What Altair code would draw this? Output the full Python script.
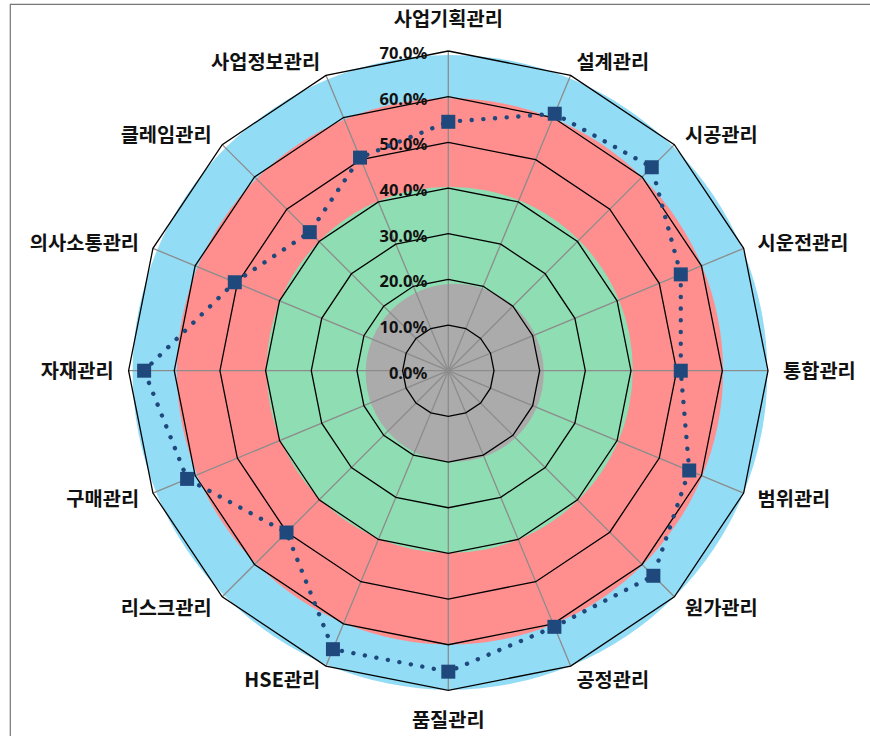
import math

import altair as alt
import pandas as pd

# ---- data -------------------------------------------------------------
CATEGORIES = [
    "사업기획관리", "설계관리", "시공관리", "시운전관리", "통합관리", "범위관리",
    "원가관리", "공정관리", "품질관리", "HSE관리", "리스크관리", "구매관리",
    "자재관리", "의사소통관리", "클레임관리", "사업정보관리",
]
SCORES = [54.5, 60.9, 63.0, 55.1, 50.9, 57.1, 63.5, 60.7,
          65.9, 66.0, 50.1, 61.9, 66.6, 50.6, 42.9, 50.5]

TICK_VALUES = [0, 10, 20, 30, 40, 50, 60, 70]
TICK_LABELS = ["0.0%", "10.0%", "20.0%", "30.0%", "40.0%", "50.0%", "60.0%", "70.0%"]

# background bands (discs drawn largest first)
BAND_NAMES = ["60-70", "40-60", "20-40", "0-20"]
BAND_RADII = [69.5, 59.8, 40.1, 19.5]
BAND_CX = [0.37, 0.37, 0.3, 1.4]
BAND_CY = [-0.35, -0.15, 0.2, -0.45]
BAND_COLORS = ["#93DCF6", "#FF8F8F", "#8FDDB2", "#ABABAB"]

# ---- geometry / styling -----------------------------------------------
N = len(CATEGORIES)
MAX_R = 70
PX_PER_UNIT = 319.7 / MAX_R
CENTER_PX = (448.3, 370.7)          # polar centre inside the canvas
PAD_LEFT, PAD_TOP = 10, 4
VIEW_W, VIEW_H = 862, 740
CANVAS_W, CANVAS_H = 870, 736

cx_in_view = CENTER_PX[0] - PAD_LEFT
cy_in_view = CENTER_PX[1] - PAD_TOP
x_domain = [-cx_in_view / PX_PER_UNIT, (VIEW_W - cx_in_view) / PX_PER_UNIT]
y_domain = [-(VIEW_H - cy_in_view) / PX_PER_UNIT, cy_in_view / PX_PER_UNIT]

XS = alt.Scale(domain=x_domain, nice=False, zero=False)
YS = alt.Scale(domain=y_domain, nice=False, zero=False)


def X(field):
    return alt.X(field, type="quantitative", scale=XS, axis=None)


def Y(field):
    return alt.Y(field, type="quantitative", scale=YS, axis=None)


KO_FONT = "Noto Sans CJK KR"
NUM_FONT = "Noto Sans"
SERIES_COLOR = "#1F497D"

ANGLE = f"datum.idx * 2 * PI / {N}"

# ---- tables -----------------------------------------------------------
series_df = pd.DataFrame({"idx": range(N), "category": CATEGORIES, "score": SCORES})
closed_df = pd.concat([series_df, series_df.iloc[[0]]], ignore_index=True)
closed_df["step"] = range(len(closed_df))

grid_df = pd.DataFrame(
    [{"level": lv, "idx": k % N, "step": k} for lv in TICK_VALUES[1:] for k in range(N + 1)]
)
ticks_df = pd.DataFrame({"value": TICK_VALUES, "label": TICK_LABELS})
bands_df = pd.DataFrame({
    "band": BAND_NAMES, "r": BAND_RADII, "cx": BAND_CX, "cy": BAND_CY,
})

# ---- layers -----------------------------------------------------------
bands = alt.Chart(bands_df).mark_arc(theta=0, theta2=2 * math.pi).encode(
    x=X("cx"),
    y=Y("cy"),
    radius=alt.Radius(
        "r:Q", stack=False,
        scale=alt.Scale(type="linear", domain=[0, MAX_R], range=[0, MAX_R * PX_PER_UNIT], zero=True),
    ),
    fill=alt.Fill("band:N", scale=alt.Scale(domain=BAND_NAMES, range=BAND_COLORS), legend=None),
    order=alt.Order("r:Q", sort="descending"),
)

spokes = alt.Chart(series_df).transform_calculate(
    ox="0", oy="0",
    sx=f"{MAX_R} * sin({ANGLE})",
    sy=f"{MAX_R} * cos({ANGLE})",
).mark_rule(color="#8C8C8C", strokeWidth=1.3).encode(
    x=X("ox"), y=Y("oy"), x2="sx:Q", y2="sy:Q",
)

grid = alt.Chart(grid_df).transform_calculate(
    gx=f"datum.level * sin({ANGLE})",
    gy=f"datum.level * cos({ANGLE})",
).mark_line(color="#000000", strokeWidth=1.3).encode(
    x=X("gx"), y=Y("gy"), detail="level:N", order="step:Q",
)

tick_text = alt.Chart(ticks_df).transform_calculate(zx="0").mark_text(
    align="right", baseline="middle", dx=-21, dy=3,
    font=NUM_FONT, fontSize=16.5, fontWeight="bold", color="#111111",
).encode(x=X("zx"), y=Y("value"), text="label:N")

series_line = alt.Chart(closed_df).transform_calculate(
    px=f"datum.score * sin({ANGLE})",
    py=f"datum.score * cos({ANGLE})",
).mark_line(
    color=SERIES_COLOR, strokeWidth=4.4, strokeDash=[0.1, 11.6], strokeCap="round",
).encode(x=X("px"), y=Y("py"), order="step:Q")

series_marks = alt.Chart(series_df).transform_calculate(
    px=f"datum.score * sin({ANGLE})",
    py=f"datum.score * cos({ANGLE})",
).mark_square(size=196, color=SERIES_COLOR, opacity=1, filled=True).encode(
    x=X("px"), y=Y("py"),
)


def category_labels(filter_expr, offset_px, **text_kw):
    r = MAX_R + offset_px / PX_PER_UNIT
    return alt.Chart(series_df).transform_filter(filter_expr).transform_calculate(
        lx=f"{r} * sin({ANGLE})",
        ly=f"{r} * cos({ANGLE})",
    ).mark_text(
        font=KO_FONT, fontSize=19.8, fontWeight="bold", color="#111111", **text_kw
    ).encode(x=X("lx"), y=Y("ly"), text="category:N")


half = N // 2
labels_top = category_labels("datum.idx == 0", 21, align="center", baseline="bottom")
labels_bottom = category_labels(f"datum.idx == {half}", 21, align="center", baseline="top")
labels_right = category_labels(f"datum.idx > 0 && datum.idx < {half}", 15,
                               align="left", baseline="middle", dy=1.5)
labels_left = category_labels(f"datum.idx > {half}", 15,
                              align="right", baseline="middle", dy=1.5)

chart = alt.layer(
    bands, spokes, grid, tick_text, series_line, series_marks,
    labels_top, labels_bottom, labels_right, labels_left,
).properties(
    width=VIEW_W,
    height=VIEW_H,
    autosize=alt.AutoSizeParams(type="none"),
    padding={
        "left": PAD_LEFT, "top": PAD_TOP,
        "right": CANVAS_W - PAD_LEFT - VIEW_W,
        "bottom": CANVAS_H - PAD_TOP - VIEW_H,
    },
    background="#FFFFFF",
).configure_view(stroke="#767676", strokeWidth=1.2)

chart.save("out.html", embed_options={"renderer": "svg", "actions": False})
